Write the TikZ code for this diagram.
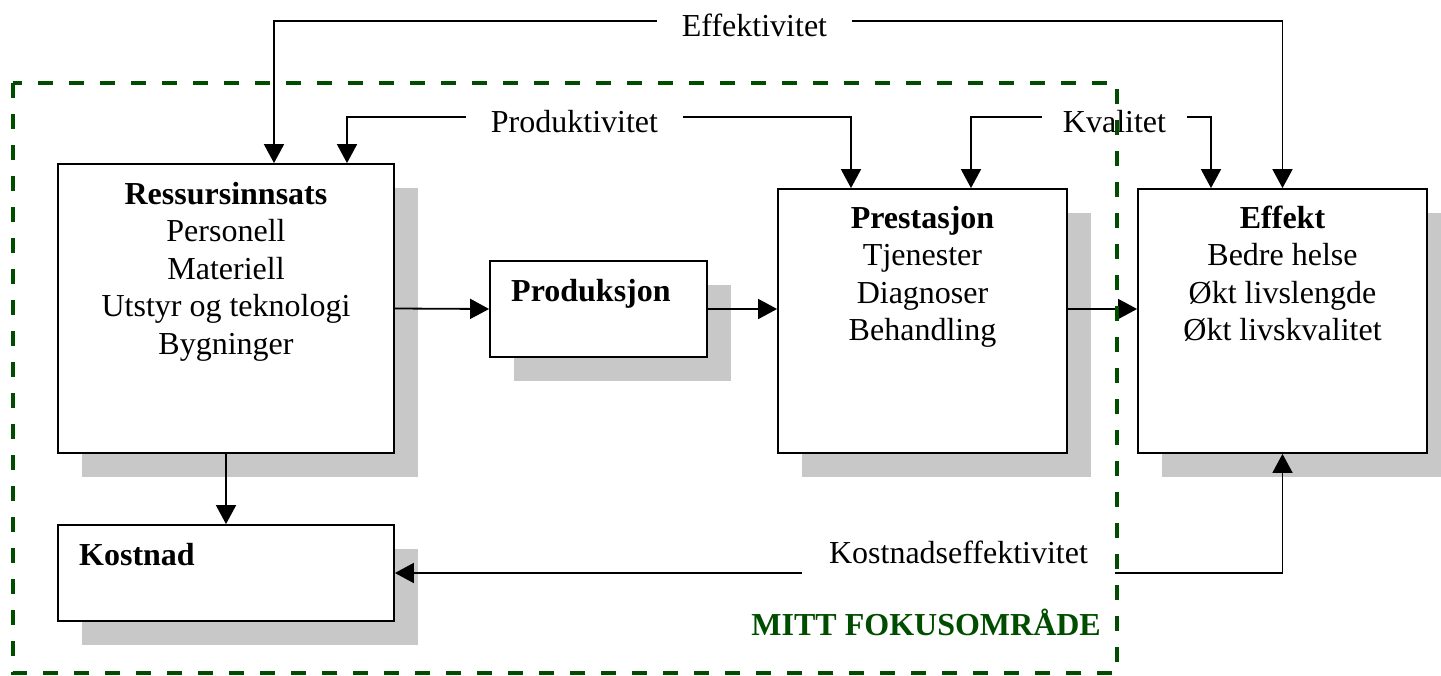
\documentclass[tikz,border=0pt]{standalone}
\usepackage{fontspec}
\setmainfont{Liberation Serif}
\usetikzlibrary{arrows.meta,shadows,calc}
\definecolor{focusgreen}{RGB}{0,77,0}
\definecolor{shadowgray}{RGB}{200,200,200}
\begin{document}
\begin{tikzpicture}[x=1pt,y=-1pt,
  font=\fontsize{32}{37.5}\selectfont,
  >={Triangle[length=19pt,width=20pt]},
  box/.style={draw=black, line width=1.8pt, fill=white, inner sep=0pt,
    drop shadow={shadow xshift=24pt, shadow yshift=-24pt, fill=shadowgray, opacity=1}},
  conn/.style={line width=1.8pt},
  lbl/.style={fill=white, inner ysep=4pt, inner xsep=0pt, anchor=base},
  boxtext/.style={inner sep=0pt, anchor=base},
  focus/.style={draw=focusgreen, line width=4pt, dash pattern=on 15pt off 16pt}
  ]
\useasboundingbox (0,0) rectangle (1441,675);

% boxes
\node[box, minimum width=336pt, minimum height=289pt] (res) at (226,308.5) {};
\node[box, minimum width=336pt, minimum height=96pt] (kost) at (226,573) {};
\node[box, minimum width=217pt, minimum height=96pt] (prod) at (598.5,309) {};
\node[box, minimum width=289pt, minimum height=264pt] (pres) at (922.5,321) {};
\node[box, minimum width=289pt, minimum height=264pt] (eff) at (1282.5,321) {};

% box texts
\node[boxtext] (rest) at (226,204) {\begin{tabular}[t]{@{}c@{}}\textbf{Ressursinnsats}\\Personell\\Materiell\\Utstyr og teknologi\\Bygninger\end{tabular}};
\node[boxtext, anchor=base west] (prodt) at (511,301) {\textbf{Produksjon}};
\node[boxtext, anchor=base west] (kostt) at (79,565) {\textbf{Kostnad}};
\node[boxtext] (prest) at (922.5,228) {\begin{tabular}[t]{@{}c@{}}\textbf{Prestasjon}\\Tjenester\\Diagnoser\\Behandling\end{tabular}};
\node[boxtext] (efft) at (1282.5,228) {\begin{tabular}[t]{@{}c@{}}\textbf{Effekt}\\Bedre helse\\Økt livslengde\\Økt livskvalitet\end{tabular}};

% helper coordinates
\coordinate (xe1) at (274,0);
\coordinate (xp1) at (347,0);
\coordinate (xp2) at (851,0);
\coordinate (xk1) at (971,0);
\coordinate (xk2) at (1211,0);
\coordinate (yE) at (0,21);
\coordinate (yP) at (0,117);

% connectors
\draw[conn,<->] (res.north -| xe1) |- (eff.north |- yE) -- (eff.north);
\draw[conn,<->] (res.north -| xp1) |- (xp2 |- yP) -- (pres.north -| xp2);
\draw[conn,<->] (pres.north -| xk1) |- (xk2 |- yP) -- (eff.north -| xk2);
\draw[conn,<->] (eff.south) |- (kost.east);
\draw[conn,->] (res.south) -- (kost.north);
\draw[conn,->] (res.east) -- (prod.west);
\draw[conn,->] (prod.east) -- (prod.east -| pres.west);
\draw[conn,->] (prod.east -| pres.east) -- (prod.east -| eff.west);

% connector labels
\node[lbl, minimum width=195pt] (leff) at (754.5,36) {Effektivitet\hspace{9pt}};
\node[lbl, minimum width=217pt] (lprod) at (574.5,132) {Produktivitet\hspace{11pt}};
\node[lbl, minimum width=145pt] (lkval) at (1114.5,132) {Kvalitet\hspace{3pt}};
\node[lbl, minimum width=313pt, text depth=14pt] (lkost) at (958.5,563) {Kostnadseffektivitet\hspace{15pt}};

% focus area
\draw[focus] (13,83) rectangle (1117,673);
\node[inner sep=0pt, anchor=base east, text=focusgreen, font=\fontsize{32}{37.5}\selectfont\bfseries] (focuslbl) at (1101,635) {MITT FOKUSOMRÅDE};
\end{tikzpicture}
\end{document}
